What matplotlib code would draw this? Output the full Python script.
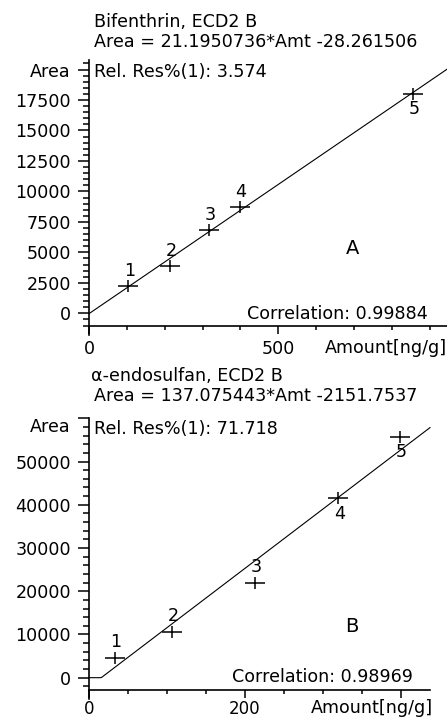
import matplotlib.pyplot as plt
import numpy as np
from matplotlib.path import Path
from matplotlib.ticker import MultipleLocator, FixedLocator, FixedFormatter

plt.rcParams['font.family'] = ['DejaVu Sans']

# calibration points
bif_amt = [103, 213, 317, 398, 856]
bif_area = [2240, 3880, 6840, 8700, 18000]
bif_slope, bif_icept = 21.1950736, -28.261506
bif_corr = 0.99884
bif_res = 3.574

endo_amt = [33, 106, 213, 320, 399]
endo_area = [4630, 10650, 21990, 41500, 55630]
endo_slope, endo_icept = 137.075443, -2151.7537
endo_corr = 0.98969
endo_res = 71.718

point_names = ['1', '2', '3', '4', '5']
bif_side = [1, 1, 1, 1, -1]     # 1 = label above the point, -1 = below
endo_side = [1, 1, 1, -1, -1]

W, H = 447, 720
FS = 12.6

fig = plt.figure(figsize=(W / 100, H / 100), dpi=100)
fig.patch.set_facecolor('white')


def px(x, y):
    return x / W, 1 - y / H


# cross marker, wider than tall like the original
cross = Path([(-1, 0), (1, 0), (0, -0.6), (0, 0.6)],
             [Path.MOVETO, Path.LINETO, Path.MOVETO, Path.LINETO])


def panel(box, amt, area, slope, icept, xlim, ylim, xmaj, xmin_, ymaj, ymin_,
          sides, clip_zero=False, xpad=4):
    l, t, r, b = box
    ax = fig.add_axes([l / W, 1 - b / H, (r - l) / W, (b - t) / H])
    ax.set_xlim(*xlim)
    ax.set_ylim(*ylim)
    for s in ['top', 'right']:
        ax.spines[s].set_visible(False)
    for s in ['left', 'bottom']:
        ax.spines[s].set_linewidth(1.2)
    # y axis runs a little below the x axis
    per_px = (ylim[1] - ylim[0]) / (b - t)
    ax.spines['left'].set_bounds(ylim[0] - 9 * per_px, ylim[1])

    fx = np.linspace(0, xlim[1], 300)
    fy = slope * fx + icept
    if clip_zero:
        fy = np.maximum(fy, 0)
    ax.plot(fx, fy, color='black', lw=0.8, clip_on=False)
    ax.plot(amt, area, linestyle='none', marker=cross, ms=14.5,
            mec='black', mew=1.1, clip_on=False)
    for xv, yv, name, sd in zip(amt, area, point_names, sides):
        ax.annotate(name, (xv, yv), xytext=(1, 11 * sd), textcoords='offset points',
                    ha='center', va='center', fontsize=FS)

    ax.xaxis.set_major_locator(xmaj)
    ax.xaxis.set_minor_locator(MultipleLocator(xmin_))
    ax.yaxis.set_major_locator(ymaj)
    ax.yaxis.set_minor_locator(MultipleLocator(ymin_))
    ax.tick_params(axis='x', which='major', length=6, width=1.1, pad=xpad, labelsize=FS)
    ax.tick_params(axis='x', which='minor', length=3, width=1.1)
    ax.tick_params(axis='y', which='major', length=8, width=1.1, pad=5, labelsize=FS)
    ax.tick_params(axis='y', which='minor', length=4.3, width=1.1)
    return ax


# panel A
ax1 = panel((89, 60, 447, 326), bif_amt, bif_area, bif_slope, bif_icept,
            (0, 946), (-1040, 20780), FixedLocator([0, 500]), 100,
            FixedLocator(np.arange(0, 20001, 2500)), 500, bif_side)
ylabs = [str(v) for v in range(0, 20000, 2500)] + ['Area']
ax1.yaxis.set_major_formatter(FixedFormatter(ylabs))
ax1.xaxis.set_major_formatter(FixedFormatter(['0', '500']))

fig.text(*px(94, 22), 'Bifenthrin, ECD2 B', fontsize=FS, va='center')
fig.text(*px(94, 42), 'Area = %.7f*Amt %.6f' % (bif_slope, bif_icept),
         fontsize=FS, va='center')
fig.text(*px(94, 72), 'Rel. Res%%(1): %.3f' % bif_res, fontsize=FS, va='center')
fig.text(*px(428, 314), 'Correlation: %.5f' % bif_corr, fontsize=FS,
         va='center', ha='right')
fig.text(*px(353, 248), 'A', fontsize=14, va='center', ha='center')
fig.text(*px(447, 348), 'Amount[ng/g]', fontsize=FS, va='center', ha='right')

# panel B
ax2 = panel((89, 418.3, 430, 690), endo_amt, endo_area, endo_slope, endo_icept,
            (0, 437.7), (-2850, 60000), FixedLocator([0, 200, 400]), 50,
            FixedLocator(np.arange(0, 60001, 10000)), 2000, endo_side,
            clip_zero=True, xpad=1)
ylabs = [str(v) for v in range(0, 60000, 10000)] + ['']
ax2.yaxis.set_major_formatter(FixedFormatter(ylabs))
ax2.xaxis.set_major_formatter(FixedFormatter(['0', '200', '']))
ax2.tick_params(axis='x', which='major', labelsize=12)

fig.text(*px(91, 376), '\u03b1-endosulfan, ECD2 B', fontsize=FS, va='center')
fig.text(*px(94, 396), 'Area = %.6f*Amt %.4f' % (endo_slope, endo_icept),
         fontsize=FS, va='center')
fig.text(*px(94, 429), 'Rel. Res%%(1): %.3f' % endo_res, fontsize=FS, va='center')
fig.text(*px(413, 677), 'Correlation: %.5f' % endo_corr, fontsize=FS,
         va='center', ha='right')
fig.text(*px(352, 627), 'B', fontsize=14, va='center', ha='center')
fig.text(*px(433, 708), 'Amount[ng/g]', fontsize=FS, va='center', ha='right')
fig.text(*px(70, 427), 'Area', fontsize=FS, va='center', ha='right')

fig.savefig('out.png', dpi=100)
